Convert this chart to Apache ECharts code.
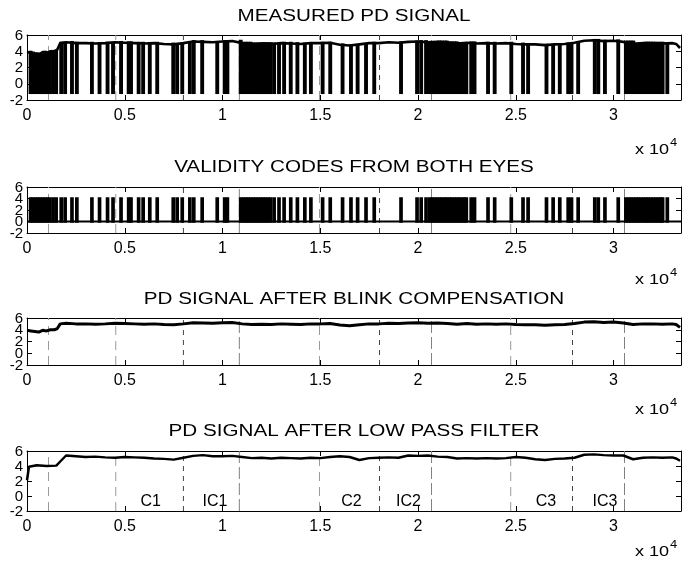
<!DOCTYPE html>
<html><head><meta charset="utf-8">
<script src="https://cdn.jsdelivr.net/npm/echarts@6/dist/echarts.min.js"></script>
<style>html,body{margin:0;padding:0;background:#fff}#c{width:683px;height:566px}</style>
</head><body><div id="c"></div>
<script>
// ---------- data ----------
const titles = ['MEASURED PD SIGNAL', 'VALIDITY CODES FROM BOTH EYES', 'PD SIGNAL AFTER BLINK COMPENSATION', 'PD SIGNAL AFTER LOW PASS FILTER'];
const xMin = 0, xMax = 33450;
const xTickValues = [0, 5000, 10000, 15000, 20000, 25000, 30000];
const xTickLabels = ['0', '0.5', '1', '1.5', '2', '2.5', '3'];
const xExponentText = 'x 10';
const xExponentPower = '4';
const yTickValues = [-2, 0, 2, 4, 6];
const yTickLabels = ['-2', '0', '2', '4', '6'];

// pupil diameter after blink compensation (also the baseline of the measured signal)
const compX = [0, 200, 400, 600, 800, 1000, 1200, 1400, 1550, 1700, 2000, 2500, 3000, 3500, 4000, 4500, 5000, 5500, 6000, 6500, 7000, 7500, 8000, 8500, 9000, 9500, 10000, 10500, 11000, 11500, 12000, 12500, 13000, 13500, 14000, 14500, 15000, 15500, 16000, 16500, 17000, 17500, 18000, 18500, 19000, 19500, 20000, 20500, 21000, 21500, 22000, 22500, 23000, 23500, 24000, 24500, 25000, 25500, 26000, 26500, 27000, 27500, 28000, 28500, 29000, 29500, 30000, 30500, 31000, 31500, 32000, 32500, 33000, 33200, 33400];
const compY = [3.9, 3.8, 3.7, 3.6, 3.9, 3.8, 4.0, 4.0, 4.2, 5.0, 5.1, 5.0, 5.0, 4.95, 5.0, 5.1, 5.05, 5.0, 4.95, 5.0, 4.9, 4.85, 5.0, 5.2, 5.15, 5.1, 5.2, 5.25, 5.0, 4.9, 4.95, 4.9, 5.0, 4.95, 4.9, 5.0, 5.0, 5.05, 4.8, 4.7, 4.85, 5.0, 5.0, 5.1, 5.05, 5.15, 5.2, 5.1, 5.15, 5.05, 4.95, 5.05, 4.95, 5.0, 4.95, 5.0, 4.9, 4.85, 4.85, 4.75, 4.85, 4.9, 5.05, 5.3, 5.35, 5.25, 5.3, 5.15, 4.9, 5.0, 5.0, 4.95, 5.0, 4.9, 4.4];

// after low pass filter
const filtX = [0, 100, 500, 1000, 1500, 1700, 2000, 2500, 3000, 3500, 4000, 4500, 5000, 5500, 6000, 6500, 7000, 7500, 8000, 8500, 9000, 9500, 10000, 10500, 11000, 11500, 12000, 12500, 13000, 13500, 14000, 14500, 15000, 15500, 16000, 16500, 17000, 17500, 18000, 18500, 19000, 19500, 20000, 20500, 21000, 21500, 22000, 22500, 23000, 23500, 24000, 24500, 25000, 25500, 26000, 26500, 27000, 27500, 28000, 28500, 29000, 29500, 30000, 30500, 31000, 31500, 32000, 32500, 33000, 33200, 33400];
const filtY = [2.1, 3.9, 4.1, 4.0, 4.05, 4.6, 5.4, 5.3, 5.2, 5.25, 5.15, 5.1, 5.2, 5.15, 5.1, 5.0, 4.95, 4.85, 5.1, 5.35, 5.45, 5.3, 5.3, 5.35, 5.2, 5.05, 5.1, 5.0, 5.1, 5.05, 5.0, 5.1, 5.05, 5.2, 5.3, 5.2, 4.8, 5.05, 5.1, 5.15, 5.1, 5.4, 5.35, 5.4, 5.25, 5.2, 5.0, 5.05, 5.0, 5.05, 5.0, 5.05, 5.2, 5.1, 4.9, 4.8, 4.95, 5.0, 5.1, 5.5, 5.55, 5.45, 5.4, 5.4, 4.9, 5.1, 5.15, 5.1, 5.15, 5.0, 4.7];

// blink onsets (samples)
const blinkStarts = [
  150, 270, 400, 520, 640, 770, 890, 1010, 1130, 1300, 1460,
  1720, 1920, 2270, 2520, 3290, 3680, 4090, 4370, 4780, 5170, 5290, 5680, 5910, 6250, 6630,
  7450, 7650, 7910, 8300, 8500, 8930, 9700, 10080, 10220,
  10900, 11030, 11160, 11280, 11410, 11540, 11660, 11790, 11920, 12040, 12170, 12300, 12430,
  12610, 12860, 13120, 13460, 13800, 14180, 14490, 15090, 15480, 16110, 16540, 16880, 17310, 17730,
  19100, 19920, 20130, 20380,
  20560, 20690, 20810, 20940, 21060, 21190, 21320, 21440, 21570, 21690, 21820, 21950, 22070, 22200, 22330, 22440,
  22690, 22860, 23550, 23890, 24740, 25340, 25600, 26540, 26880, 27220, 27650, 27820, 28160, 29010, 29190, 29530, 30210,
  30600, 30730, 30850, 30980, 31110, 31230, 31360, 31490, 31620, 31740, 31870, 32000, 32130, 32260, 32380, 32480,
  32720
];
const blinkDuration = 60;
const blinkValue = -1.1;
const validCode = 0;
const invalidCode = 4;

// event markers (samples)
const markerX = [1100, 4540, 8000, 10860, 14960, 18030, 20690, 24740, 27900, 30560];
const markerKind = ['g', 'g', 'd', 's', 'g', 'd', 's', 'g', 'd', 's'];
const segmentLabels = ['C1', 'IC1', 'C2', 'IC2', 'C3', 'IC3'];
const segmentLabelX = [6330, 9610, 16590, 19510, 26540, 29560];
const segmentLabelY = -0.8;

// ---------- build series data ----------
function levelBefore(x) {
  let lv = compY[0];
  for (let i = 0; i < compX.length && compX[i] <= x; i++) lv = compY[i];
  return lv;
}
// each blink: [start, low, end, high]
const measuredBlinks = blinkStarts.map(s => [s, blinkValue, s + blinkDuration, levelBefore(s)]);
const validityBlinks = blinkStarts.map(s => [s, validCode, s + blinkDuration, invalidCode]);

// ---------- layout / style ----------
const FONT = '"Liberation Sans", Arial, Helvetica, sans-serif';
const grids = [
  { top: 35, height: 65 },
  { top: 187, height: 46 },
  { top: 318, height: 47 },
  { top: 451, height: 60 }
];
const titleY = [16, 167, 298.5, 431];
const expY = [150, 280, 410, 552];
const markerStyle = {
  g: { color: '#9a9a9a', type: [9, 6], width: 1 },
  d: { color: '#444', type: [5, 5], width: 1 },
  s: { color: '#808080', type: [12, 4], width: 1 }
};

function blinkSeries(gi, data, lw) {
  return {
    type: 'custom', xAxisIndex: 2 * gi, yAxisIndex: 2 * gi, z: 3, silent: true,
    data: data,
    renderItem: (params, api) => {
      const d = data[params.dataIndex];
      const pa = api.coord([d[0], d[3]]);   // start, high
      const pb = api.coord([d[2], d[1]]);   // end, low
      const h = lw / 2;
      const x0 = Math.min(pa[0], pb[0]) - h, x1 = Math.max(pa[0], pb[0]) + h;
      const y0 = Math.min(pa[1], pb[1]) - h, y1 = Math.max(pa[1], pb[1]) + h;
      return {
        type: 'rect',
        shape: { x: x0, y: y0, width: x1 - x0, height: y1 - y0 },
        style: { fill: '#000' }
      };
    }
  };
}
function lineSeries(gi, data, lw) {
  return {
    type: 'line', xAxisIndex: 2 * gi, yAxisIndex: 2 * gi, z: 3,
    showSymbol: false, symbol: 'none', silent: true,
    data: data,
    lineStyle: { color: '#000', width: lw }
  };
}

const option = {
  animation: false,
  backgroundColor: '#fff',
  grid: grids.map(g => ({ left: 27, right: 2, top: g.top, height: g.height, show: false, containLabel: false, outerBoundsMode: 'none' })),
  xAxis: [],
  yAxis: [],
  series: [],
  graphic: []
};

grids.forEach((g, i) => {
  const common = {
    type: 'value', gridIndex: i, min: xMin, max: xMax, interval: 5000,
    splitLine: { show: false },
    axisLine: { show: true, onZero: false, lineStyle: { color: '#000', width: 1 } },
    axisTick: { show: true, inside: true, length: 5, lineStyle: { color: '#000' } }
  };
  option.xAxis.push(Object.assign({}, common, {
    position: 'bottom',
    axisLabel: {
      show: true, color: '#000', fontSize: 16, fontFamily: FONT, margin: 8,
      showMinLabel: true, showMaxLabel: true, hideOverlap: false,
      formatter: v => { const k = xTickValues.indexOf(v); return k >= 0 ? xTickLabels[k] : ''; }
    }
  }));
  option.xAxis.push(Object.assign({}, common, { position: 'top', axisLabel: { show: false } }));
  const ycommon = {
    type: 'value', gridIndex: i, min: -2, max: 6, interval: 2,
    splitLine: { show: false },
    axisLine: { show: true, onZero: false, lineStyle: { color: '#000', width: 1 } },
    axisTick: { show: true, inside: true, length: 5, lineStyle: { color: '#000' } },
    axisLabel: { show: false }
  };
  option.yAxis.push(Object.assign({}, ycommon, { position: 'left' }));
  option.yAxis.push(Object.assign({}, ycommon, { position: 'right' }));

  // event markers
  markerX.forEach((mx, k) => {
    option.series.push({
      type: 'line', xAxisIndex: 2 * i, yAxisIndex: 2 * i, z: 1, silent: true,
      showSymbol: false, symbol: 'none',
      data: [[mx, -2], [mx, 6]],
      lineStyle: markerStyle[markerKind[k]]
    });
  });

  // titles & exponent labels
  option.graphic.push({
    type: 'text', x: 354, y: titleY[i] + 1, scaleX: 1.29, silent: true,
    style: { text: titles[i], font: '16px ' + FONT, fill: '#000', align: 'center', verticalAlign: 'middle' }
  });
  option.graphic.push({
    type: 'text', x: 635, y: expY[i], scaleX: 1.29, silent: true,
    style: { text: xExponentText, font: '14px ' + FONT, fill: '#000', align: 'left', verticalAlign: 'middle' }
  });
  option.graphic.push({
    type: 'text', x: 670, y: expY[i] - 7, scaleX: 1.29, silent: true,
    style: { text: xExponentPower, font: '10px ' + FONT, fill: '#000', align: 'left', verticalAlign: 'middle' }
  });
});

// signals
const compData = compX.map((x, i) => [x, compY[i]]);
option.series.push(lineSeries(0, compData, 2.6));
option.series.push(blinkSeries(0, measuredBlinks, 2.7));
option.series.push(lineSeries(1, [[xMin, validCode], [xMax, validCode]], 2.2));
option.series.push(blinkSeries(1, validityBlinks, 2.5));
option.series.push(lineSeries(2, compData, 3));
option.series.push(lineSeries(3, filtX.map((x, i) => [x, filtY[i]]), 2.5));

// segment labels in the last subplot
option.series.push({
  type: 'scatter', xAxisIndex: 6, yAxisIndex: 6, z: 4, silent: true,
  symbolSize: 0,
  itemStyle: { opacity: 1 },
  data: segmentLabelX.map((x, i) => [x, segmentLabelY, segmentLabels[i]]),
  label: { show: true, position: 'inside', formatter: p => p.data[2], color: '#000', opacity: 1, fontSize: 16, fontFamily: FONT }
});

const chart = echarts.init(document.getElementById('c'), null, { renderer: 'canvas' });
chart.setOption(option);

// y tick labels placed through the y axis scale (all shown, overlapping like the original)
const yLabelGraphics = [];
grids.forEach((g, i) => {
  yTickValues.forEach((v, k) => {
    const px = chart.convertToPixel({ xAxisIndex: 2 * i, yAxisIndex: 2 * i }, [xMin, v]);
    yLabelGraphics.push({
      type: 'text', x: px[0] - 4, y: px[1] + 0.5, silent: true,
      style: { text: yTickLabels[k], font: '15px ' + FONT, fill: '#000', align: 'right', verticalAlign: 'middle' }
    });
  });
});
option.graphic = option.graphic.concat(yLabelGraphics);
chart.setOption({ graphic: option.graphic });
</script>
</body></html>
